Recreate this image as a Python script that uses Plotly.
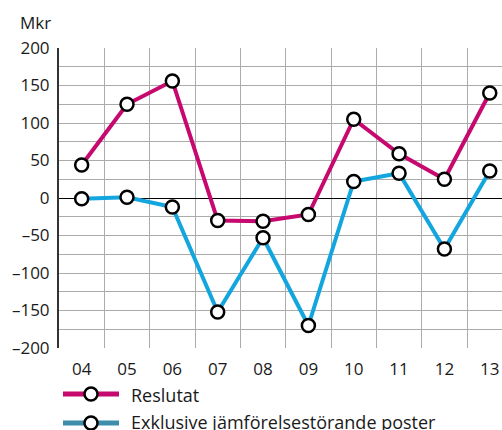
import plotly.graph_objects as go

years = ["04", "05", "06", "07", "08", "09", "10", "11", "12", "13"]
reslutat = [44, 125, 156, -30, -31, -22, 105, 59, 25, 140]
exklusive = [-1, 1, -12, -152, -53, -170, 22, 33, -68, 36]
series_names = ["Reslutat", "Exklusive jämförelsestörande poster"]
y_ticks = [200, 150, 100, 50, 0, -50, -100, -150, -200]

MAGENTA = "#C6086F"
BLUE = "#13A6DE"
LEGEND_BLUE = "#3D8DAB"
FONT = "Open Sans"
TXT = "#1a1a1a"

W, H = 502, 430
L, R, T, B = 59, 0, 48, 82
plot_w = W - L - R
plot_h = H - T - B

def px(xp):
    return (xp - L) / plot_w

def py_(yp):
    return (H - B - yp) / plot_h

x = list(range(len(years)))
marker = dict(size=13, color="white", line=dict(color="black", width=2.5))

fig = go.Figure()
fig.add_trace(go.Scatter(x=x, y=exklusive, mode="lines+markers", name=series_names[1],
                         line=dict(color=BLUE, width=4), marker=marker, showlegend=False))
fig.add_trace(go.Scatter(x=x, y=reslutat, mode="lines+markers", name=series_names[0],
                         line=dict(color=MAGENTA, width=4), marker=marker, showlegend=False))

fig.update_layout(
    width=W, height=H,
    margin=dict(l=L, r=R, t=T, b=B),
    plot_bgcolor="white", paper_bgcolor="white",
    font=dict(family=FONT, size=17, color=TXT),
    xaxis=dict(range=[-0.5, 9.27], tickvals=x, ticktext=years, showgrid=False,
               zeroline=False, showline=False, ticks="", ticklabelstandoff=9,
               tickfont=dict(size=17),
               minor=dict(tickvals=[i + 0.5 for i in range(len(years))], showgrid=True,
                          gridcolor="#ABABAB", gridwidth=1, ticks="")),
    yaxis=dict(range=[-200, 200], tickvals=y_ticks,
               ticktext=[str(v).replace("-", "\u2013") for v in y_ticks],
               showgrid=True, gridcolor="#ABABAB", gridwidth=1,
               zeroline=True, zerolinecolor="black", zerolinewidth=1.2,
               showline=True, linecolor="#333333", linewidth=2, ticks="",
               ticklabelstandoff=4, tickfont=dict(size=17),
               minor=dict(dtick=25, showgrid=True, gridcolor="#ABABAB", gridwidth=1, ticks="")),
    showlegend=False,
)

legend_rows = [(series_names[0], MAGENTA, 394, 395.5), (series_names[1], LEGEND_BLUE, 423, 421.5)]
for name, col, yy, ty in legend_rows:
    fig.add_shape(type="line", xref="paper", yref="paper",
                  x0=px(63), x1=px(119), y0=py_(yy), y1=py_(yy),
                  line=dict(color=col, width=5))
    fig.add_shape(type="circle", xref="paper", yref="paper",
                  xsizemode="pixel", ysizemode="pixel",
                  xanchor=px(91), yanchor=py_(yy),
                  x0=-6.5, x1=6.5, y0=-6.5, y1=6.5,
                  fillcolor="white", line=dict(color="black", width=2.5))
    fig.add_annotation(text=name, xref="paper", yref="paper", x=px(129), y=py_(ty),
                       xanchor="left", yanchor="middle", showarrow=False,
                       font=dict(size=18, family=FONT, color=TXT))

fig.add_annotation(text="Mkr", xref="paper", yref="paper", x=px(18), y=py_(22),
                   xanchor="left", yanchor="middle", showarrow=False,
                   font=dict(size=17, family=FONT, color=TXT))

fig.write_html("out.html", config={"displayModeBar": False},
               post_script="document.body.style.margin='0';document.body.style.overflow='hidden';")
